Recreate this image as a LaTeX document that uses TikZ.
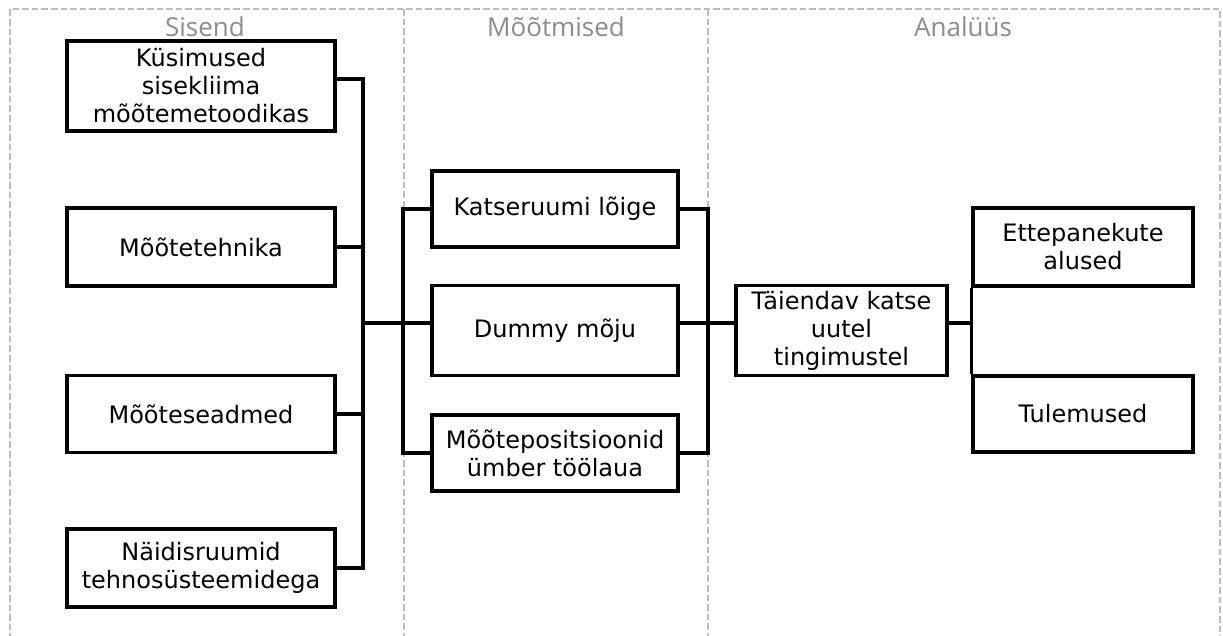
\documentclass[tikz,border=0pt]{standalone}
\usepackage{fontspec}
\usepackage{tikz}
\usetikzlibrary{calc}
\newfontfamily\boxfont{DejaVu Sans}
\newfontfamily\headfont{Open Sans}
\definecolor{framegray}{HTML}{BDBDBD}
\definecolor{headgray}{HTML}{8C8C8C}

\begin{document}
\begin{tikzpicture}[x=0.75pt,y=0.75pt,yscale=-1,xscale=1,
  frame/.style={draw=framegray,line width=2.2pt,dash pattern=on 5pt off 2.2pt},
  head/.style={font={\headfont\fontsize{19.5}{22}\selectfont},text=headgray,inner sep=0pt,anchor=base},
  box/.style={draw,line width=2.6pt,fill=white,inner sep=0pt,align=center,
    font={\boxfont\fontsize{18}{21}\selectfont}},
  link/.style={draw,line width=2.6pt}]
\useasboundingbox (0,0) rectangle (1223,635);

%Column frame
\draw[frame] (10,640) -- (10,9) -- (1220,9) -- (1220,640);
\draw[frame] (404,9) -- (404,640);
\draw[frame] (708,9) -- (708,640);

% Text Node
\node[head] (sisend) at (205,37) {Sisend};
% Text Node
\node[head] (motmised) at (556,37) {Mõõtmised};
% Text Node
\node[head] (analuus) at (963,37) {Analüüs};

%Input boxes
\node[box,minimum width=201pt,minimum height=67.5pt] (kysim) at (201,86) {Küsimused\\sisekliima\\mõõtemetoodikas};
\node[box,minimum width=201pt,minimum height=58.5pt] (tehnika) at (201,247) {Mõõtetehnika};
\node[box,minimum width=201pt,minimum height=57.75pt] (seadmed) at (201,414) {Mõõteseadmed};
\node[box,minimum width=201pt,minimum height=58.5pt] (naidis) at (201,568) {Näidisruumid\\tehnosüsteemidega};

%Measurement boxes
\node[box,minimum width=184.5pt,minimum height=57pt] (loige) at (555,209) {Katseruumi lõige};
\node[box,minimum width=184.5pt,minimum height=67.5pt] (dummy) at (555,330.5) {Dummy mõju};
\node[box,minimum width=184.5pt,minimum height=57pt] (positsioon) at (555,453) {Mõõtepositsioonid\\ümber töölaua};

%Analysis boxes
\node[box,minimum width=158.25pt,minimum height=67.5pt] (taiendav) at (841.5,330.5) {Täiendav katse\\uutel\\tingimustel};
\node[box,minimum width=165pt,minimum height=58.5pt] (ettepanek) at (1083,247) {Ettepanekute\\alused};
\node[box,minimum width=165pt,minimum height=57pt] (tulemused) at (1083,414) {Tulemused};

%Bus points
\coordinate (b1t) at (363,79);
\coordinate (b1b) at (363,568);
\coordinate (j1) at (363,323);
\coordinate (b2t) at (403,209);
\coordinate (b2b) at (403,453);
\coordinate (b3t) at (708,209);
\coordinate (b3b) at (708,453);

%Straight Lines
\draw[link] (kysim.east |- b1t) -- (b1t) -- (b1b) -- (naidis.east);
\draw[link] (tehnika.east) -- (tehnika.east -| b1t);
\draw[link] (seadmed.east) -- (seadmed.east -| b1t);
\draw[link] (loige.west) -- (b2t) -- (b2b) -- (positsioon.west);
\draw[link] (j1) -- (dummy.west |- j1);
\draw[link] (loige.east) -- (b3t) -- (b3b) -- (positsioon.east);
\draw[link] (dummy.east |- j1) -- (taiendav.west |- j1);
\draw[link] (taiendav.east |- j1) -- (ettepanek.south west |- j1);
\draw[link] (ettepanek.south west) -- (tulemused.north west);

\end{tikzpicture}
\end{document}
